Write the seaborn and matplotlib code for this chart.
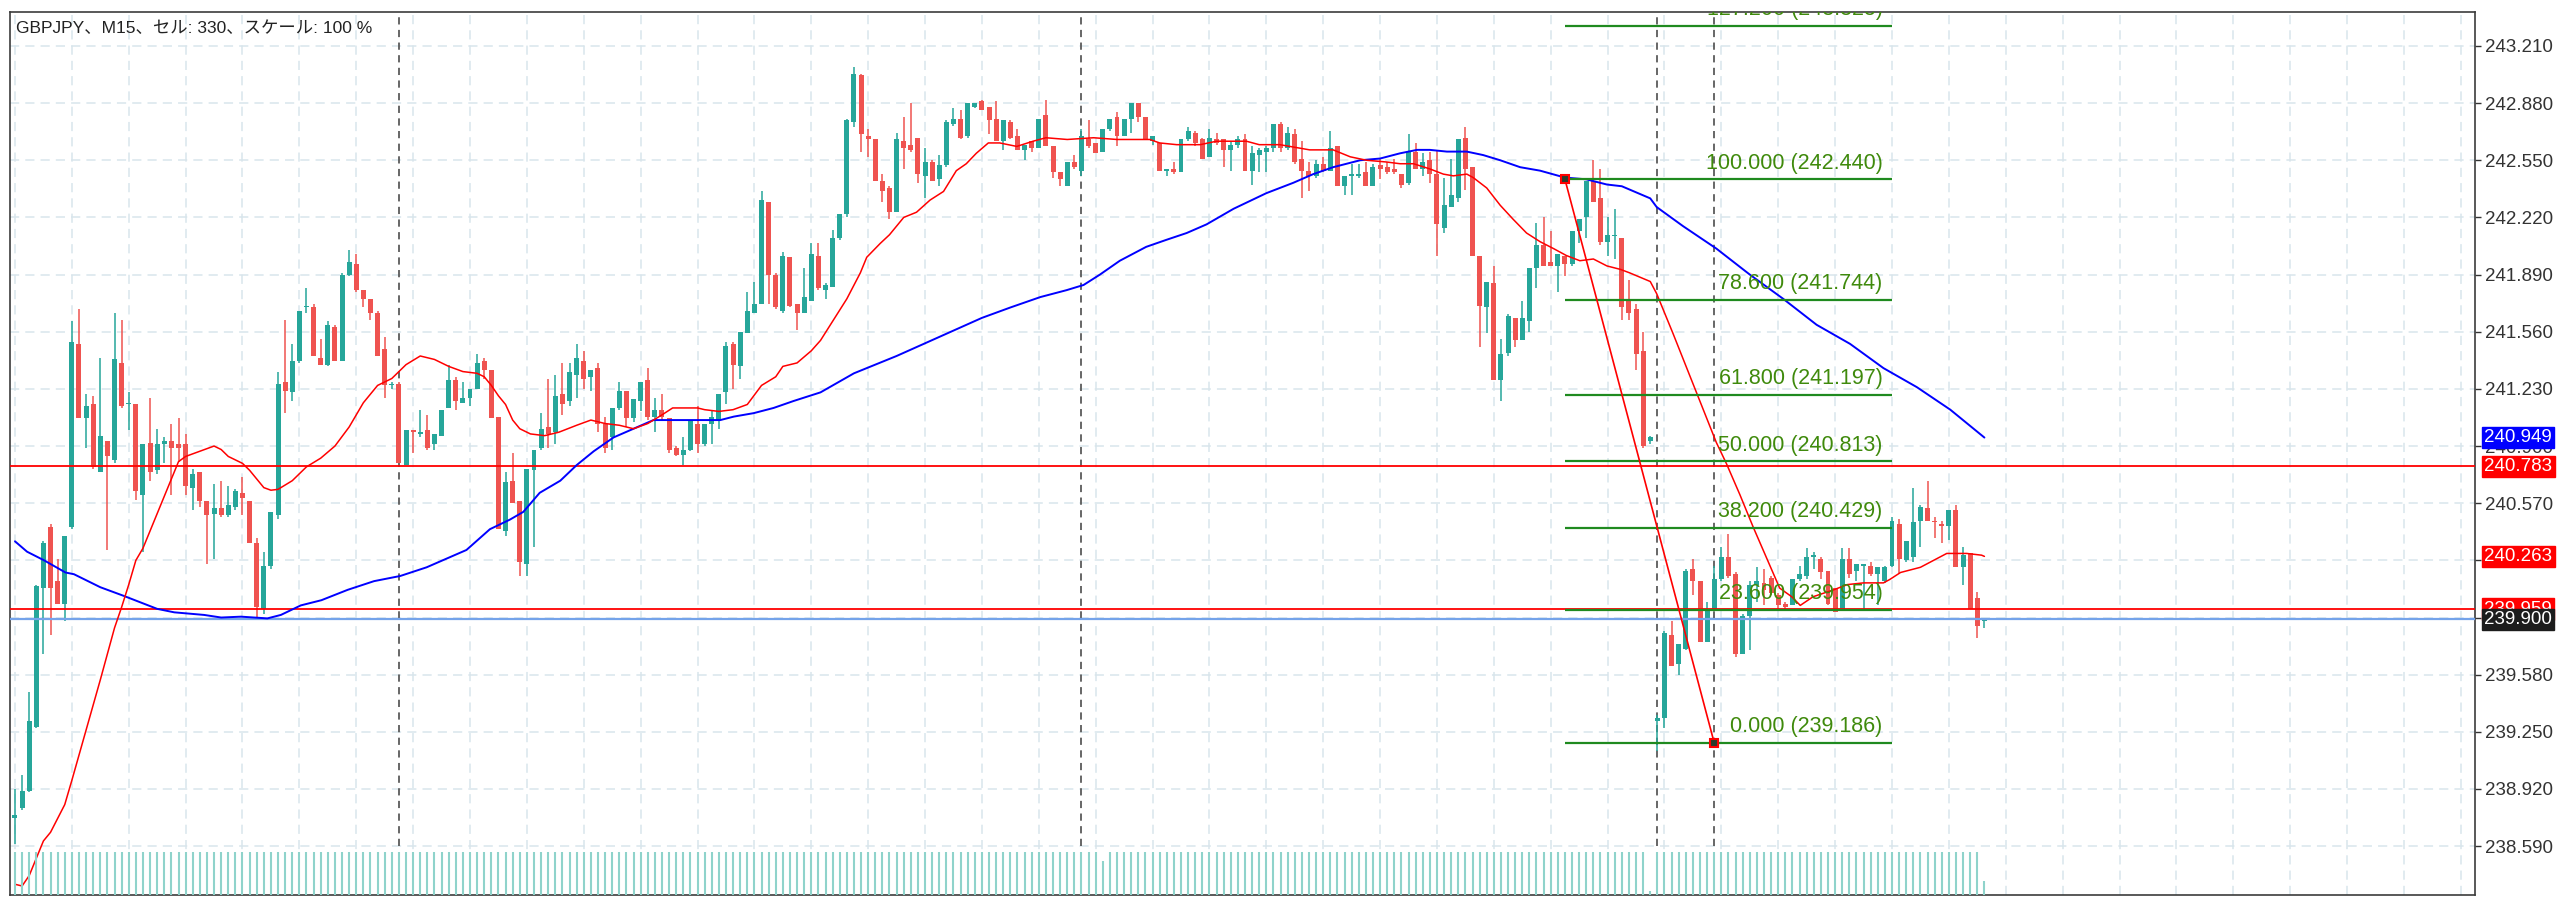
import numpy as np
import pandas as pd
import matplotlib
matplotlib.use('Agg')
import matplotlib.pyplot as plt
import matplotlib.transforms as mtransforms
import seaborn as sns

sns.set_style('white')
plt.rcParams['font.family'] = ['Liberation Sans', 'Noto Sans CJK JP', 'DejaVu Sans']

# ---- ローソク足データ (GBPJPY M15) ----
opens = [
    238.75, 238.81, 238.91, 239.28, 240.08, 240.43, 240.12, 239.99, 240.43, 241.49,
    241.06, 241.14, 240.75, 240.93, 240.82, 241.38, 241.14, 241.14, 240.62, 240.92,
    240.76, 240.91, 240.93, 240.91, 240.91, 240.66, 240.75, 240.58, 240.51, 240.54,
    240.50, 240.55, 240.63, 240.58, 240.34, 239.96, 240.21, 240.50, 241.27, 241.21,
    241.39, 241.70, 241.70, 241.41, 241.37, 241.59, 241.39, 241.89, 241.95, 241.80,
    241.75, 241.67, 241.46, 241.25, 241.26, 240.79, 240.99, 240.97, 240.99, 240.91,
    240.96, 241.12, 241.28, 241.15, 241.18, 241.23, 241.39, 241.34, 241.07, 240.41,
    240.70, 240.58, 240.22, 240.76, 240.89, 241.01, 240.98, 241.20, 241.16, 241.31,
    241.39, 241.30, 241.35, 241.03, 240.95, 241.12, 241.22, 241.06, 241.16, 241.28,
    241.07, 241.11, 241.06, 240.89, 240.85, 240.88, 241.03, 240.91, 241.03, 241.05,
    241.21, 241.49, 241.36, 241.55, 241.67, 241.72, 242.31, 241.89, 241.68, 241.99,
    241.72, 241.67, 241.74, 242.00, 241.80, 241.82, 242.10, 242.24, 242.77, 243.04,
    242.69, 242.67, 242.43, 242.39, 242.25, 242.66, 242.64, 242.68, 242.46, 242.54,
    242.44, 242.52, 242.76, 242.79, 242.69, 242.86, 242.89, 242.86, 242.79, 242.66,
    242.77, 242.69, 242.61, 242.66, 242.62, 242.81, 242.63, 242.48, 242.40, 242.54,
    242.49, 242.67, 242.65, 242.60, 242.73, 242.80, 242.69, 242.79, 242.88, 242.80,
    242.66, 242.65, 242.49, 242.50, 242.48, 242.67, 242.71, 242.67, 242.57, 242.67,
    242.67, 242.61, 242.64, 242.67, 242.49, 242.58, 242.60, 242.62, 242.76, 242.62,
    242.70, 242.56, 242.49, 242.46, 242.53, 242.49, 242.63, 242.40, 242.46, 242.46,
    242.48, 242.40, 242.52, 242.51, 242.50, 242.47, 242.42, 242.60, 242.50, 242.55,
    242.47, 242.16, 242.28, 242.33, 242.68, 242.51, 242.00, 241.70, 241.84, 241.28,
    241.44, 241.64, 241.51, 241.62, 241.93, 242.06, 241.96, 241.94, 242.00, 241.95,
    242.14, 242.22, 242.43, 242.33, 242.08, 242.11, 242.10, 241.75, 241.69, 241.45,
    240.93, 239.31, 239.33, 239.81, 239.64, 239.73, 240.19, 240.12, 239.77, 239.96,
    240.13, 240.26, 240.16, 239.70, 239.92, 240.10, 240.11, 240.14, 240.04, 239.99,
    239.98, 240.13, 240.15, 240.26, 240.25, 240.18, 240.08, 239.95, 240.25, 240.18,
    240.21, 240.21, 240.16, 240.12, 240.21, 240.45, 240.24, 240.26, 240.47, 240.54,
    240.47, 240.45, 240.44, 240.53, 240.20, 240.28, 240.02, 239.89,
]
highs = [
    238.92, 239.00, 239.48, 240.10, 240.35, 240.45, 240.25, 240.38, 241.62, 241.69,
    241.20, 241.19, 241.41, 240.93, 241.67, 241.63, 241.21, 241.14, 240.91, 241.18,
    241.00, 240.95, 241.03, 241.06, 240.97, 240.77, 240.75, 240.58, 240.68, 240.70,
    240.67, 240.65, 240.72, 240.58, 240.37, 240.29, 240.52, 241.33, 241.63, 241.49,
    241.68, 241.81, 241.72, 241.52, 241.62, 241.60, 241.90, 242.03, 242.01, 241.80,
    241.75, 241.68, 241.53, 241.27, 241.27, 240.99, 240.99, 241.11, 241.08, 240.97,
    241.11, 241.37, 241.30, 241.27, 241.23, 241.43, 241.41, 241.34, 241.07, 240.75,
    240.86, 240.58, 240.77, 240.88, 241.09, 241.29, 241.31, 241.38, 241.38, 241.49,
    241.45, 241.34, 241.38, 241.07, 241.12, 241.27, 241.22, 241.17, 241.27, 241.35,
    241.18, 241.20, 241.06, 240.90, 240.95, 241.05, 241.13, 241.03, 241.10, 241.20,
    241.50, 241.50, 241.56, 241.79, 241.85, 242.37, 242.31, 241.90, 242.02, 241.99,
    241.72, 241.93, 242.07, 242.07, 241.84, 242.15, 242.24, 242.79, 243.09, 243.05,
    242.73, 242.67, 242.47, 242.40, 242.71, 242.80, 242.88, 242.68, 242.62, 242.55,
    242.58, 242.78, 242.85, 242.84, 242.88, 242.88, 242.90, 242.86, 242.89, 242.78,
    242.78, 242.73, 242.64, 242.66, 242.79, 242.90, 242.63, 242.48, 242.54, 242.58,
    242.73, 242.78, 242.65, 242.73, 242.79, 242.83, 242.79, 242.88, 242.88, 242.80,
    242.69, 242.65, 242.50, 242.54, 242.67, 242.74, 242.72, 242.68, 242.73, 242.71,
    242.67, 242.66, 242.69, 242.70, 242.63, 242.62, 242.63, 242.76, 242.77, 242.74,
    242.73, 242.66, 242.54, 242.55, 242.57, 242.72, 242.63, 242.46, 242.53, 242.53,
    242.54, 242.53, 242.56, 242.54, 242.56, 242.47, 242.70, 242.65, 242.59, 242.60,
    242.61, 242.45, 242.56, 242.67, 242.74, 242.51, 242.00, 241.85, 241.94, 241.52,
    241.66, 241.64, 241.74, 241.93, 242.19, 242.22, 242.14, 242.01, 242.00, 242.14,
    242.21, 242.43, 242.55, 242.50, 242.22, 242.27, 242.10, 241.86, 241.72, 241.56,
    240.96, 239.35, 239.83, 239.89, 239.76, 240.19, 240.25, 240.12, 240.00, 240.21,
    240.32, 240.39, 240.17, 239.93, 240.12, 240.20, 240.19, 240.15, 240.05, 240.00,
    240.13, 240.21, 240.31, 240.29, 240.26, 240.18, 240.08, 240.31, 240.31, 240.22,
    240.22, 240.23, 240.20, 240.21, 240.49, 240.48, 240.35, 240.66, 240.56, 240.70,
    240.49, 240.47, 240.53, 240.56, 240.32, 240.28, 240.06, 239.91,
]
lows = [
    238.60, 238.80, 238.90, 239.27, 239.70, 239.81, 239.99, 239.89, 240.42, 241.06,
    240.89, 240.77, 240.75, 240.30, 240.80, 241.12, 240.99, 240.59, 240.29, 240.70,
    240.74, 240.80, 240.62, 240.81, 240.62, 240.53, 240.55, 240.22, 240.25, 240.49,
    240.49, 240.53, 240.50, 240.34, 239.90, 239.93, 240.19, 240.48, 241.09, 241.16,
    241.38, 241.67, 241.42, 241.37, 241.36, 241.39, 241.39, 241.88, 241.79, 241.70,
    241.63, 241.42, 241.18, 241.23, 240.80, 240.79, 240.86, 240.95, 240.88, 240.88,
    240.96, 241.12, 241.11, 241.15, 241.13, 241.23, 241.29, 241.06, 240.42, 240.38,
    240.57, 240.15, 240.15, 240.32, 240.88, 240.89, 240.91, 241.08, 241.13, 241.18,
    241.23, 241.22, 240.98, 240.86, 240.88, 241.11, 241.01, 241.04, 241.10, 241.05,
    240.98, 241.05, 240.86, 240.84, 240.79, 240.87, 240.86, 240.90, 240.91, 241.00,
    241.14, 241.23, 241.29, 241.55, 241.67, 241.72, 241.72, 241.69, 241.67, 241.70,
    241.57, 241.67, 241.74, 241.80, 241.75, 241.82, 242.09, 242.22, 242.74, 242.60,
    242.57, 242.43, 242.31, 242.21, 242.25, 242.50, 242.60, 242.42, 242.33, 242.43,
    242.40, 242.51, 242.75, 242.67, 242.68, 242.85, 242.84, 242.70, 242.66, 242.61,
    242.67, 242.61, 242.55, 242.60, 242.62, 242.63, 242.45, 242.40, 242.40, 242.50,
    242.46, 242.62, 242.59, 242.60, 242.72, 242.63, 242.69, 242.71, 242.77, 242.67,
    242.64, 242.49, 242.46, 242.47, 242.48, 242.66, 242.63, 242.56, 242.57, 242.64,
    242.51, 242.49, 242.62, 242.49, 242.41, 242.48, 242.48, 242.60, 242.60, 242.61,
    242.53, 242.33, 242.37, 242.45, 242.48, 242.49, 242.40, 242.35, 242.35, 242.45,
    242.40, 242.40, 242.44, 242.47, 242.47, 242.39, 242.41, 242.50, 242.46, 242.42,
    242.00, 242.13, 242.28, 242.31, 242.38, 242.00, 241.47, 241.55, 241.28, 241.16,
    241.42, 241.47, 241.51, 241.56, 241.81, 241.94, 241.94, 241.79, 241.88, 241.94,
    242.07, 242.10, 242.31, 242.06, 242.00, 241.98, 241.63, 241.63, 241.34, 240.89,
    240.91, 239.14, 239.27, 239.63, 239.58, 239.72, 240.04, 239.77, 239.77, 239.95,
    240.12, 240.14, 239.68, 239.70, 239.72, 240.00, 239.98, 240.04, 239.96, 239.95,
    239.98, 240.12, 240.13, 240.19, 240.13, 239.98, 239.94, 239.95, 240.14, 240.12,
    239.96, 240.15, 239.98, 240.11, 240.20, 240.16, 240.23, 240.23, 240.32, 240.47,
    240.37, 240.34, 240.36, 240.20, 240.10, 239.96, 239.79, 239.85,
]
closes = [
    238.77, 238.91, 239.31, 240.09, 240.34, 240.08, 239.99, 240.38, 241.50, 241.06,
    241.13, 240.78, 240.96, 240.84, 241.40, 241.13, 241.15, 240.64, 240.91, 240.75,
    240.91, 240.93, 240.89, 240.89, 240.67, 240.74, 240.58, 240.50, 240.54, 240.50,
    240.56, 240.64, 240.60, 240.34, 239.97, 240.21, 240.52, 241.26, 241.22, 241.39,
    241.68, 241.71, 241.42, 241.37, 241.60, 241.39, 241.89, 241.96, 241.80, 241.75,
    241.67, 241.42, 241.25, 241.26, 240.80, 240.99, 240.98, 240.98, 240.89, 240.97,
    241.11, 241.28, 241.16, 241.18, 241.23, 241.38, 241.34, 241.06, 240.42, 240.69,
    240.57, 240.23, 240.77, 240.88, 241.00, 240.97, 241.19, 241.14, 241.33, 241.41,
    241.29, 241.34, 241.03, 240.89, 241.12, 241.22, 241.06, 241.17, 241.27, 241.07,
    241.11, 241.07, 240.88, 240.85, 240.88, 241.05, 240.91, 241.03, 241.07, 241.20,
    241.48, 241.37, 241.56, 241.68, 241.72, 242.32, 241.89, 241.70, 242.00, 241.71,
    241.67, 241.76, 242.01, 241.81, 241.83, 242.10, 242.24, 242.78, 243.05, 242.70,
    242.67, 242.43, 242.37, 242.25, 242.67, 242.62, 242.61, 242.47, 242.54, 242.43,
    242.52, 242.77, 242.79, 242.68, 242.88, 242.88, 242.84, 242.78, 242.66, 242.78,
    242.68, 242.61, 242.64, 242.62, 242.79, 242.63, 242.48, 242.44, 242.54, 242.51,
    242.69, 242.63, 242.59, 242.73, 242.79, 242.69, 242.79, 242.88, 242.80, 242.67,
    242.69, 242.49, 242.50, 242.48, 242.67, 242.72, 242.65, 242.56, 242.68, 242.65,
    242.61, 242.64, 242.67, 242.49, 242.59, 242.61, 242.62, 242.76, 242.62, 242.71,
    242.54, 242.49, 242.46, 242.53, 242.49, 242.62, 242.40, 242.46, 242.47, 242.47,
    242.40, 242.51, 242.50, 242.48, 242.48, 242.41, 242.60, 242.50, 242.54, 242.47,
    242.18, 242.29, 242.35, 242.67, 242.50, 242.00, 241.71, 241.85, 241.28, 241.43,
    241.65, 241.51, 241.64, 241.93, 242.06, 241.94, 241.94, 242.01, 241.95, 242.14,
    242.21, 242.43, 242.31, 242.08, 242.12, 242.12, 241.70, 241.67, 241.43, 240.90,
    240.95, 239.33, 239.82, 239.63, 239.76, 240.18, 240.12, 239.77, 239.96, 240.13,
    240.26, 240.15, 239.70, 239.92, 240.10, 240.12, 240.07, 240.05, 239.98, 239.97,
    240.13, 240.16, 240.26, 240.27, 240.17, 239.99, 239.94, 240.25, 240.16, 240.22,
    240.22, 240.16, 240.20, 240.20, 240.47, 240.25, 240.35, 240.46, 240.55, 240.47,
    240.46, 240.44, 240.53, 240.20, 240.27, 239.96, 239.86, 239.90,
]
volumes = [
    100, 100, 100, 100, 100, 100, 100, 100, 100, 100, 100, 100, 100, 100, 100, 100, 100, 100, 100, 100,
    100, 100, 100, 100, 100, 100, 100, 100, 100, 100, 100, 100, 100, 100, 100, 100, 100, 100, 100, 100,
    100, 100, 100, 100, 100, 100, 100, 100, 100, 100, 100, 100, 100, 100, 100, 100, 100, 100, 100, 100,
    100, 100, 100, 100, 100, 100, 100, 100, 100, 100, 100, 100, 100, 100, 100, 100, 100, 100, 100, 100,
    100, 100, 100, 100, 100, 100, 100, 100, 100, 100, 100, 100, 100, 100, 100, 100, 100, 100, 100, 100,
    100, 100, 100, 100, 100, 100, 100, 100, 100, 100, 100, 100, 100, 100, 100, 100, 100, 100, 100, 100,
    100, 100, 100, 100, 100, 100, 100, 100, 100, 100, 100, 100, 100, 100, 100, 100, 100, 100, 100, 100,
    100, 100, 100, 100, 100, 100, 100, 100, 100, 100, 100, 100, 100, 80, 100, 100, 100, 100, 100, 100,
    100, 100, 100, 100, 100, 100, 100, 100, 100, 100, 100, 100, 100, 100, 100, 100, 100, 100, 100, 100,
    100, 100, 100, 100, 100, 100, 100, 100, 100, 100, 100, 100, 100, 100, 100, 100, 100, 100, 100, 100,
    100, 100, 100, 100, 100, 100, 100, 100, 100, 100, 100, 100, 100, 100, 100, 100, 100, 100, 100, 100,
    100, 100, 100, 100, 100, 100, 100, 100, 100, 100, 9, 100, 100, 100, 100, 100, 100, 100, 100, 100,
    100, 100, 100, 100, 100, 100, 100, 100, 100, 100, 100, 100, 100, 100, 100, 100, 100, 100, 100, 100,
    100, 100, 100, 100, 100, 100, 100, 100, 100, 100, 100, 100, 100, 100, 100, 100, 100, 33,
]

# 移動平均線 (画面から読み取った値)
red_ma_x = [
    0, 1, 2, 4, 5, 7, 8, 10, 12, 14,
    15, 16, 17, 18, 20, 22, 23, 24, 26, 28,
    29, 30, 32, 33, 35, 36, 37, 39, 41, 43,
    45, 47, 49, 51, 53, 55, 57, 59, 61, 63,
    65, 66, 67, 68, 69, 70, 71, 72.5, 74.5, 76.5,
    79, 81, 83, 85, 87, 89, 91, 92.5, 96, 97,
    99, 101, 103, 105, 107, 108, 110, 112, 113.3, 115,
    117, 118.9, 119.8, 121.7, 123, 125, 126.8, 128.7, 130.6, 132.4,
    133.8, 135.2, 136.9, 138.5, 140.9, 143.2, 145, 148, 151.7, 155,
    159.6, 161, 163.4, 166.7, 169, 173.2, 175, 177.9, 182.1, 185.4,
    187.8, 190.1, 192.9, 194.8, 196.7, 199, 200.9, 202.3, 204.2, 205.1,
    207, 208.9, 210.7, 212.6, 214.5, 216.4, 218.2, 220.1, 222, 223.9,
    225.8, 227.1, 230, 230.9, 233.2, 236.5, 239.3, 240.7, 242.6, 244.5,
    246.4, 248.2, 249.9, 251.1, 252.9, 255.8, 257.7, 260, 262.8, 263.7,
    265.2, 268, 271.7, 274.5, 276.6, 277,
]
red_ma_y = [
    238.37, 238.36, 238.42, 238.62, 238.67, 238.83, 238.97, 239.26, 239.55, 239.85,
    239.97, 240.10, 240.24, 240.31, 240.51, 240.71, 240.81, 240.84, 240.87, 240.90,
    240.88, 240.84, 240.80, 240.76, 240.66, 240.645, 240.65, 240.70, 240.78, 240.83,
    240.90, 241.01, 241.15, 241.25, 241.29, 241.37, 241.42, 241.40, 241.36, 241.33,
    241.32, 241.30, 241.25, 241.19, 241.14, 241.05, 241.00, 240.97, 240.96, 240.98,
    241.02, 241.05, 241.03, 241.02, 241.00, 241.03, 241.08, 241.12, 241.12, 241.11,
    241.10, 241.11, 241.14, 241.25, 241.30, 241.36, 241.38, 241.45, 241.51, 241.62,
    241.75, 241.90, 241.99, 242.07, 242.12, 242.22, 242.25, 242.32, 242.37, 242.49,
    242.53, 242.59, 242.65, 242.65, 242.63, 242.66, 242.68, 242.67, 242.68, 242.67,
    242.67, 242.65, 242.64, 242.64, 242.66, 242.66, 242.64, 242.64, 242.61, 242.61,
    242.57, 242.55, 242.54, 242.53, 242.53, 242.50, 242.47, 242.46, 242.47, 242.45,
    242.39, 242.29, 242.21, 242.13, 242.08, 242.04, 242.00, 241.97, 241.98, 241.94,
    241.92, 241.90, 241.85, 241.78, 241.55, 241.21, 240.92, 240.80, 240.62, 240.43,
    240.25, 240.08, 240.03, 239.98, 240.03, 240.07, 240.10, 240.11, 240.11, 240.13,
    240.17, 240.20, 240.28, 240.28, 240.27, 240.263,
]
blue_ma_x = [
    0, 1.7, 4.1, 7.1, 8.3, 12, 15.3, 20, 22.4, 26.6,
    29, 31.8, 35.5, 37.4, 40.2, 43.1, 46.8, 50.5, 54.2, 57.9,
    63.5, 66.8, 69.6, 71.5, 73.8, 76.7, 79, 81.4, 84.2, 87,
    89.8, 95.4, 99.2, 101.1, 103.9, 106.7, 109.5, 113.3, 118, 124,
    130, 136, 140, 144.2, 147.9, 150.3, 152.6, 155.4, 159.1, 161.9,
    164.8, 167.6, 171.4, 176, 179.8, 182.6, 185.4, 189.2, 192, 194.8,
    197.2, 199, 201.4, 204.2, 206.5, 208.9, 211.7, 214.5, 218, 221,
    223.9, 226, 230, 230.9, 234.6, 239.3, 244, 248.7, 253.4, 258.1,
    262.8, 267.5, 272.2, 277,
]
blue_ma_y = [
    240.35, 240.29, 240.24, 240.17, 240.16, 240.085, 240.035, 239.96, 239.94, 239.925,
    239.91, 239.915, 239.905, 239.925, 239.98, 240.01, 240.07, 240.12, 240.15, 240.20,
    240.30, 240.42, 240.475, 240.52, 240.63, 240.70, 240.79, 240.87, 240.95, 241.00,
    241.05, 241.05, 241.05, 241.07, 241.09, 241.12, 241.16, 241.21, 241.32, 241.42,
    241.53, 241.64, 241.70, 241.76, 241.80, 241.83, 241.89, 241.97, 242.05, 242.09,
    242.13, 242.18, 242.27, 242.36, 242.42, 242.47, 242.51, 242.55, 242.56, 242.59,
    242.61, 242.61, 242.60, 242.60, 242.58, 242.55, 242.51, 242.49, 242.45, 242.44,
    242.41, 242.40, 242.33, 242.28, 242.17, 242.04, 241.89, 241.75, 241.60, 241.49,
    241.35, 241.24, 241.11, 240.949,
]

# フィボナッチ・リトレースメント
fib_levels = [127.2, 100.0, 78.6, 61.8, 50.0, 38.2, 23.6, 0.0]
fib_prices = [243.325, 242.440, 241.744, 241.197, 240.813, 240.429, 239.954, 239.186]
fib_bars = [218, 264]          # 水平線の開始/終了バー
fib_anchor_bars = [218, 239]   # 100% と 0% のアンカー

price_ticks = [243.21, 242.88, 242.55, 242.22, 241.89, 241.56, 241.23, 240.90,
               240.57, 240.24, 239.91, 239.58, 239.25, 238.92, 238.59]
separator_bars = [54, 150, 231, 239]
hline_red = [240.783, 239.959]
bid_price = 239.900
tag_prices = [240.949, 240.783, 240.263, 239.959, 239.900]
tag_colors = ['#0000ff', '#ff0000', '#ff0000', '#ff0000', '#1c1c1c']

df = pd.DataFrame({'o': opens, 'h': highs, 'l': lows, 'c': closes, 'vol': volumes})
df['i'] = np.arange(len(df))
up = df['c'] >= df['o']
col = np.where(up, '#26a69a', '#ef5350')

GRID = '#d8e5ec'

fig = plt.figure(figsize=(25.6, 9.05), dpi=100)
ax = fig.add_axes([10 / 2560, 10 / 905, 2465 / 2560, 883 / 905])
ax.set_xlim(-0.7, 346.0)
ax.set_ylim(238.308, 243.406)

# グリッド
ax.hlines(price_ticks, -0.7, 346.0, colors=GRID, linestyles=(0, (6, 4)), lw=1.1, zorder=0)
ax.vlines(np.arange(0, 346, 8), 238.308, 243.406, colors=GRID, linestyles=(0, (6, 4)), lw=1.1, zorder=0)

# 区切り線
ax.vlines(separator_bars, 238.59, 243.406, colors='#5a5a5a', linestyles=(0, (4, 3)), lw=1.3, zorder=1)

# ローソク足
ax.vlines(df['i'], df['l'], df['h'], colors=col, lw=1.1, zorder=2)
body_h = np.maximum((df['c'] - df['o']).abs(), 0.007)
ax.bar(df['i'], body_h, bottom=np.minimum(df['o'], df['c']), width=0.7,
       color=col, linewidth=0, zorder=3)

# 出来高
vax = ax.inset_axes([0, 0, 1, 43 / 883], sharex=ax)
vax.vlines(df['i'], 0, df['vol'], colors='#8fd3cb', lw=1.5)
vax.set_ylim(0, 100)
vax.axis('off')
vax.patch.set_alpha(0)

# 移動平均
sns.lineplot(x=blue_ma_x, y=blue_ma_y, ax=ax, color='#0000ff', linewidth=1.4,
             estimator=None, sort=False, legend=False, zorder=5)
sns.lineplot(x=red_ma_x, y=red_ma_y, ax=ax, color='#ff0000', linewidth=1.1,
             estimator=None, sort=False, legend=False, zorder=5)

# 水平線
for p in hline_red:
    ax.axhline(p, color='#ff0000', lw=1.3, zorder=4)
ax.axhline(bid_price, color='#74a3ea', lw=1.6, zorder=4)

# フィボナッチ
ax.hlines(fib_prices, fib_bars[0], fib_bars[1], colors='#1f8a1f', lw=1.6, zorder=6)
for lv, pr in zip(fib_levels, fib_prices):
    ax.annotate(f'{lv:.3f} ({pr:.3f})', xy=(fib_bars[1] - 1.3, pr), xytext=(0, 4),
                textcoords='offset points', ha='right', va='bottom',
                fontsize=15.5, color='#3f8a0c', zorder=7, annotation_clip=False,
                clip_on=True)
ax.plot(fib_anchor_bars, [fib_prices[1], fib_prices[-1]], color='#ff0000', lw=1.2, zorder=6)
ax.plot(fib_anchor_bars, [fib_prices[1], fib_prices[-1]], ls='none', marker='s', ms=6,
        mfc='#2b3b2b', mec='#ff0000', mew=1.5, zorder=8)

# 軸
ax.yaxis.tick_right()
ax.set_yticks(price_ticks)
ax.set_yticklabels([f'{p:.3f}' for p in price_ticks])
ax.tick_params(axis='y', length=4, width=1, pad=3, labelsize=13.5, labelcolor='#333333', color='#333333')
ax.set_xticks(np.arange(0, 346, 16))
ax.set_xticklabels([])
ax.tick_params(axis='x', length=4, width=1, color='#333333')
for s in ax.spines.values():
    s.set_color('#3c3c3c')
    s.set_linewidth(1.2)
ax.set_xlabel('')
ax.set_ylabel('')

# 価格タグ
trans = mtransforms.blended_transform_factory(ax.transAxes, ax.transData)
for k, (p, fc) in enumerate(zip(tag_prices, tag_colors)):
    ax.text(1.0038, p, f'{p:.3f}', transform=trans, ha='left', va='center', fontsize=13.5,
            color='white', clip_on=False, zorder=10 + k,
            bbox=dict(boxstyle='square,pad=0.12', fc=fc, ec=fc))

fig.text(16 / 2560, 1 - 29 / 905, 'GBPJPY、M15、セル: 330、スケール: 100 %',
         fontsize=12.5, ha='left', va='center', color='#222222')

fig.savefig('out.png', dpi=100)
